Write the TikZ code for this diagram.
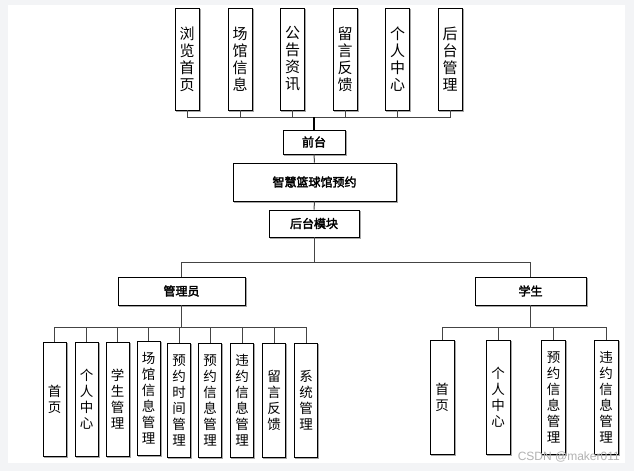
\documentclass[tikz,border=0pt]{standalone}
\usepackage{fontspec}
\newfontfamily\cjk{Noto Sans CJK SC}
\newfontfamily\cjkbold[FakeBold=2.5]{Noto Sans CJK SC}
\newfontfamily\wmfont{Liberation Sans}
\definecolor{pagebg}{HTML}{F3F4F6}
\definecolor{linegray}{HTML}{444444}
\begin{document}
\begin{tikzpicture}[x=1pt,y=-1pt,
  box/.style={draw=black,line width=0.8pt,fill=white,inner sep=0pt,align=center,
    preaction={draw=gray!70,line width=1.2pt,transform canvas={xshift=1.2pt,yshift=-1.2pt}}},
  topbox/.style={box,minimum width=24pt,minimum height=102pt,font=\cjk\fontsize{15}{17}\selectfont},
  subbox/.style={box,minimum width=23pt,minimum height=114pt,font=\cjk\fontsize{13.5}{16}\selectfont},
  titlebox/.style={box,font=\cjkbold\fontsize{12}{13}\selectfont},
  conn/.style={draw=linegray,line width=1pt},
  trunk/.style={draw=black,line width=1.8pt}
]
\useasboundingbox (0,0) rectangle (634,471);
\fill[pagebg] (0,0) rectangle (634,471);
\fill[white] (8,5) rectangle (625,463);

% top row
\node[topbox] (t1) at (187,59) {浏\\览\\首\\页};
\node[topbox] (t2) at (240,59) {场\\馆\\信\\息};
\node[topbox] (t3) at (292.5,59) {公\\告\\资\\讯};
\node[topbox] (t4) at (345,59) {留\\言\\反\\馈};
\node[topbox] (t5) at (397.5,59) {个\\人\\中\\心};
\node[topbox] (t6) at (450,59) {后\\台\\管\\理};

% middle chain
\node[titlebox,minimum width=62pt,minimum height=24pt] (qt) at (314,142) {前台};
\node[titlebox,minimum width=163pt,minimum height=38pt] (zh) at (314.5,182) {智慧篮球馆预约};
\node[titlebox,minimum width=90pt,minimum height=27pt] (ht) at (314,223.5) {后台模块};

% roles
\node[titlebox,minimum width=127pt,minimum height=28pt] (gly) at (181.5,291) {管理员};
\node[titlebox,minimum width=111pt,minimum height=28pt] (xs) at (530.5,291) {学生};

% admin children
\node[subbox] (a1) at (54.5,399) {首\\页};
\node[subbox] (a2) at (86.5,399) {个\\人\\中\\心};
\node[subbox] (a3) at (117.5,399) {学\\生\\管\\理};
\node[subbox] (a4) at (148.5,398) {场\\馆\\信\\息\\管\\理};
\node[subbox] (a5) at (179,400) {预\\约\\时\\间\\管\\理};
\node[subbox] (a6) at (210,400) {预\\约\\信\\息\\管\\理};
\node[subbox] (a7) at (242,400) {违\\约\\信\\息\\管\\理};
\node[subbox] (a8) at (274,400) {留\\言\\反\\馈};
\node[subbox] (a9) at (306,400) {系\\统\\管\\理};

% student children
\node[subbox,minimum width=24pt] (s1) at (442,397) {首\\页};
\node[subbox,minimum width=24pt] (s2) at (498,397) {个\\人\\中\\心};
\node[subbox,minimum width=24pt] (s3) at (553.5,397) {预\\约\\信\\息\\管\\理};
\node[subbox,minimum width=24pt] (s4) at (606,397) {违\\约\\信\\息\\管\\理};

% bus coordinates
\coordinate (topbus) at (314,117);
\coordinate (split) at (314,262);
\coordinate (abus) at (181.5,327);
\coordinate (sbus) at (530.5,327);

% connectors
\foreach \n in {t1,t2,t3,t4,t5,t6} \draw[conn] (\n.south) |- (topbus);
\draw[trunk] (topbus) -- (qt.north);
\draw[conn] (qt.south) -- (zh.north);
\draw[conn] (zh.south) -- (ht.north);
\draw[conn] (ht.south) -- (split);
\draw[conn] (split) -| (gly.north);
\draw[conn] (split) -| (xs.north);
\draw[conn] (gly.south) -- (abus);
\foreach \n in {a1,a2,a3,a4,a5,a6,a7,a8,a9} \draw[conn] (abus) -| (\n.north);
\draw[conn] (xs.south) -- (sbus);
\foreach \n in {s1,s2,s3,s4} \draw[conn] (sbus) -| (\n.north);

% watermark
\node[anchor=east,text=gray!60,font=\wmfont\fontsize{12}{12}\selectfont,inner sep=0pt] (wm) at (620,457) {CSDN @maker011};
\end{tikzpicture}
\end{document}
